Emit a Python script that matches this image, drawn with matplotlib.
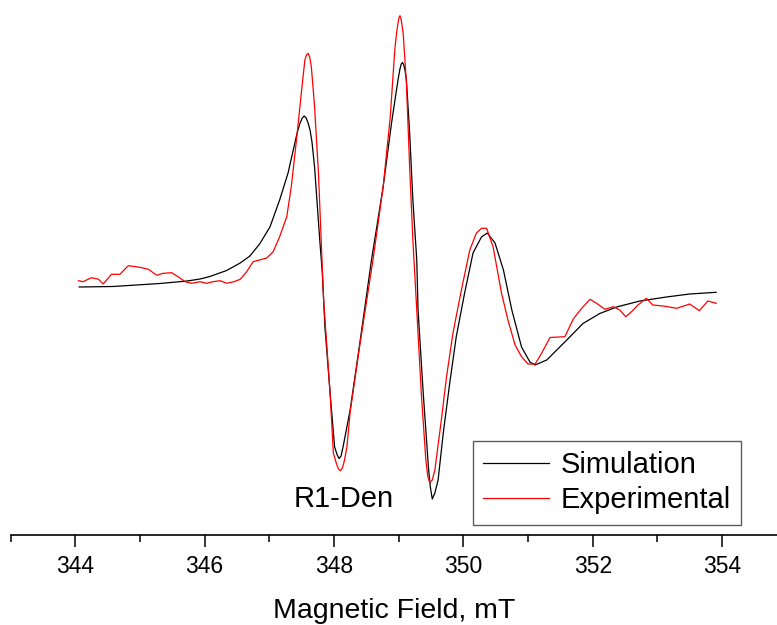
import matplotlib
matplotlib.use("Agg")
import matplotlib.pyplot as plt
from matplotlib.ticker import MultipleLocator

plt.rcParams['font.family'] = ['Liberation Sans', 'DejaVu Sans']

# Simulation (black)
sim_field = [344.06, 344.58, 345.31, 345.73, 345.93, 346.08, 346.34, 346.55, 346.70, 346.85,
             347.01, 347.16, 347.29, 347.43, 347.47, 347.51, 347.54, 347.57, 347.60, 347.63,
             347.66, 347.70, 347.78, 347.82, 347.86,
             347.94, 348.01, 348.05, 348.08, 348.11, 348.14, 348.25, 348.40, 348.58, 348.76,
             348.89, 348.99, 349.02, 349.04, 349.06, 349.08, 349.10, 349.12, 349.17, 349.22,
             349.28, 349.30, 349.38, 349.46, 349.49, 349.52, 349.56, 349.61,
             349.69, 349.79, 349.89, 350.02, 350.15, 350.28, 350.37, 350.49, 350.62, 350.75,
             350.90, 351.03, 351.11, 351.29, 351.60, 351.85, 352.11, 352.37, 352.73, 353.14,
             353.50, 353.91]
sim_signal = [3, 3.5, 6.5, 9, 11, 13.5, 19.5, 27, 34, 46,
              63, 90, 117, 157, 166, 172, 174, 172, 167, 160,
              148, 123, 50, 17, -37,
              -103, -157, -165, -168.5, -166, -157, -120, -53, 30, 103,
              167, 210, 221, 226, 227.5, 225, 219, 210, 157, 90,
              30, -20, -103, -177, -197, -209, -203, -190,
              -143, -93, -47, -3, 37, 53, 57, 47, 20, -20,
              -57, -72, -75, -70, -50, -33.5, -23.5, -17, -11, -7,
              -4, -2.3]

# Experimental (red)
exp_field = [344.05, 344.12, 344.25, 344.36, 344.43, 344.56, 344.69, 344.82, 345.00, 345.13,
             345.26, 345.36, 345.49, 345.59, 345.70, 345.80, 345.93, 346.03, 346.13, 346.24,
             346.34, 346.44, 346.55, 346.65, 346.75, 346.85, 346.96, 347.06, 347.16, 347.27,
             347.34, 347.42, 347.50, 347.55, 347.575, 347.60, 347.625, 347.65, 347.70, 347.76,
             347.81, 347.84,
             347.94, 347.99, 348.04, 348.07, 348.10, 348.13, 348.16, 348.20, 348.25, 348.40,
             348.61, 348.76, 348.87, 348.94, 348.97, 349.00, 349.02, 349.04, 349.07, 349.12,
             349.17, 349.22, 349.28, 349.35, 349.42, 349.45, 349.48, 349.52, 349.56,
             349.66, 349.74, 349.84, 349.97, 350.10, 350.20, 350.28, 350.36, 350.46, 350.59,
             350.69, 350.80, 350.90, 351.00, 351.11, 351.21, 351.34, 351.57, 351.70, 351.83,
             351.96, 352.06, 352.19, 352.32, 352.42, 352.51, 352.60, 352.70, 352.83, 352.93,
             353.09, 353.30, 353.50, 353.65, 353.78, 353.91]
exp_signal = [9.3, 8.3, 12.3, 10.7, 6, 15.7, 15.7, 24.3, 22.7, 20.7,
              14.7, 16.7, 17.3, 13.3, 8.3, 6.7, 8.3, 6.7, 8.3, 9.3,
              6.7, 8, 10.7, 18.3, 28.3, 30, 32, 38.3, 53.3, 73.3,
              103.3, 150, 200, 230, 235, 236.7, 233, 223.3, 183.3, 117,
              37, -10,
              -103, -163, -174, -179, -180.7, -178, -171, -157, -122, -55,
              33, 103, 173, 240, 258, 271, 274.3, 270, 257, 207,
              123, 50, -20, -103, -170, -186, -192.7, -190, -180,
              -130, -87, -43, 0, 40, 56.7, 61.7, 61.7, 43.3, -3,
              -30, -55, -66.7, -74, -74, -63.3, -47.5, -46.7, -29, -18.3,
              -9.3, -13.3, -19.3, -16.7, -20, -26.7, -21.7, -15, -8.3, -15,
              -16, -18.3, -14, -20.7, -11, -13.3]

xticks = [344, 346, 348, 350, 352, 354]

W, H = 777, 625
fig = plt.figure(figsize=(W / 100, H / 100), dpi=100)
ax = fig.add_axes([10.6 / W, (H - 534.5) / H, 1 - 10.6 / W, 534.5 / H])

ax.plot(sim_field, sim_signal, color='black', lw=0.9, label='Simulation')
ax.plot(exp_field, exp_signal, color='#ff0000', lw=0.9, label='Experimental')

ax.set_xlim(343.0, 354.85)
ax.set_ylim(290 - 534.5, 290)

for s in ['top', 'right', 'left']:
    ax.spines[s].set_visible(False)
ax.spines['bottom'].set_linewidth(1.2)
ax.set_yticks([])
ax.set_xticks(xticks)
ax.xaxis.set_minor_locator(MultipleLocator(1))
ax.tick_params(axis='x', which='major', length=8.5, width=1.1, labelsize=16.5, pad=6.5, direction='out')
ax.tick_params(axis='x', which='minor', length=5, width=1.1, direction='out')
ax.set_xlabel('Magnetic Field, mT', fontsize=20.5, labelpad=14)

ax.text(344 / W, 1 - 499 / H, 'R1-Den', transform=fig.transFigure, fontsize=21,
        ha='center', va='center')

leg = ax.legend(loc='upper left', bbox_to_anchor=(473 / W, 1 - 441 / H),
                bbox_transform=fig.transFigure, borderaxespad=0, fontsize=21,
                frameon=True, fancybox=False, handlelength=2.25, handletextpad=0.4,
                labelspacing=0.25, borderpad=0.35)
leg.get_frame().set_edgecolor('#333333')
leg.get_frame().set_linewidth(1.0)

fig.savefig('out.png', dpi=100)
